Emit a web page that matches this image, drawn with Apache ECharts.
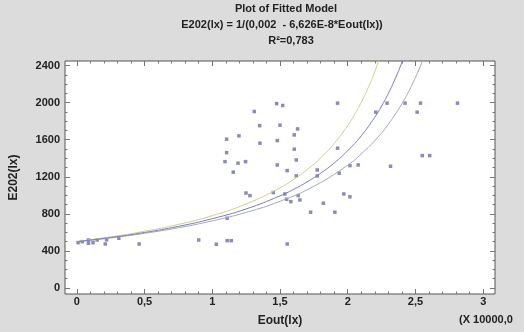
<!DOCTYPE html>
<html>
<head>
<meta charset="utf-8">
<script src="https://cdn.jsdelivr.net/npm/echarts@6/dist/echarts.min.js"></script>
<style>
  html, body { margin: 0; padding: 0; background: #dcdcdc; }
  #chart { width: 524px; height: 332px; }
</style>
</head>
<body>
<div id="chart"></div>
<script>
// observed points (Eout in 10000 lx, E202 in lx)
const eoutObs = [0.01, 0.04, 0.086, 0.086, 0.12, 0.15, 0.21, 0.22, 0.31, 0.46,
  0.90, 1.03, 1.11, 1.14, 1.11, 1.475, 1.52, 1.31, 1.35, 1.50,
  1.63, 1.106, 1.197, 1.352, 1.48, 1.605, 1.605, 1.106, 1.094, 1.19,
  1.246, 1.155, 1.48, 1.553, 1.62, 1.62, 1.775, 1.775, 1.925, 1.925,
  1.937, 2.016, 2.077, 1.249, 1.278, 1.45, 1.536, 1.634, 1.971, 2.016,
  1.549, 1.58, 1.647, 1.82, 1.726, 1.905, 1.553, 2.29, 2.207, 2.423,
  2.537, 2.512, 2.55, 2.605, 2.316, 2.81];
const e202Obs = [489, 500, 518, 483, 489, 518, 475, 520, 537, 475,
  518, 472, 511, 511, 753, 1990, 1970, 1905, 1752, 1757,
  1717, 1606, 1642, 1563, 1591, 1652, 1498, 1461, 1364, 1347,
  1364, 1250, 1328, 1267, 1382, 1210, 1274, 1210, 1995, 1509,
  1239, 1321, 1328, 1025, 997, 1030, 1015, 997, 1015, 984,
  958, 932, 950, 915, 818, 818, 475, 1995, 1898, 1995,
  1995, 1898, 1429, 1429, 1314, 1995];

// fitted curve and limits
const fitX = [0, 0.25, 0.5, 0.75, 1, 1.25, 1.5, 1.6, 1.7, 1.8, 1.9, 2, 2.1, 2.2, 2.25, 2.3, 2.35, 2.4, 2.45];
const fitY = [500, 545, 599, 665, 748, 853, 994, 1064, 1145, 1239, 1349, 1482, 1643, 1844, 1964, 2101, 2258, 2438, 2655];
const upX = [0, 0.25, 0.5, 0.75, 1, 1.25, 1.5, 1.6, 1.7, 1.8, 1.9, 2, 2.05, 2.1, 2.15, 2.2, 2.25];
const upY = [503, 552, 612, 686, 781, 907, 1081, 1171, 1277, 1404, 1560, 1754, 1871, 2004, 2158, 2336, 2548];
const loX = [0, 0.25, 0.5, 0.75, 1, 1.25, 1.5, 1.75, 2, 2.1, 2.2, 2.3, 2.4, 2.45, 2.5, 2.55, 2.6];
const loY = [498, 540, 590, 650, 724, 816, 936, 1098, 1326, 1447, 1591, 1768, 1989, 2121, 2273, 2447, 2651];

// axis ticks
const xTicks = [0, 0.5, 1, 1.5, 2, 2.5, 3];
const xMinor = [0, 0.1, 0.2, 0.3, 0.4, 0.5, 0.6, 0.7, 0.8, 0.9, 1, 1.1, 1.2, 1.3, 1.4, 1.5,
  1.6, 1.7, 1.8, 1.9, 2, 2.1, 2.2, 2.3, 2.4, 2.5, 2.6, 2.7, 2.8, 2.9, 3];
const yTicks = [0, 400, 800, 1200, 1600, 2000, 2400];
const yMinor = [0, 100, 200, 300, 400, 500, 600, 700, 800, 900, 1000, 1100, 1200, 1300,
  1400, 1500, 1600, 1700, 1800, 1900, 2000, 2100, 2200, 2300, 2400];

const xMin = -0.087, xMax = 3.087;
const yMin = -65, yMax = 2450;
const font = "Liberation Sans";
const tickCol = "#777";

const zip = (a, b) => a.map((v, i) => [v, b[i]]);

const axisBase = (min, max) => ({
  type: "value", gridIndex: 0, min: min, max: max,
  splitLine: { show: false },
  axisLine: { show: false, onZero: false },
  axisLabel: { show: false },
  axisTick: { show: false },
});

const tickAxis = (kind, pos, vals, len) => Object.assign(
  kind === "x" ? axisBase(xMin, xMax) : axisBase(yMin, yMax),
  {
    position: pos,
    axisTick: { show: true, inside: true, length: len, customValues: vals, lineStyle: { color: tickCol } },
  }
);

const myChart = echarts.init(document.getElementById("chart"));
myChart.setOption({
  backgroundColor: "#dcdcdc",
  animation: false,
  grid: {
    left: 65, right: 29, top: 61, bottom: 38,
    show: true, backgroundColor: "#fff", borderColor: "#555", borderWidth: 1,
  },
  graphic: [
    { type: "text", x: 286, y: 3, style: { text: "Plot of Fitted Model", font: "bold 11px " + font, fill: "#222", textAlign: "center" } },
    { type: "text", x: 282, y: 19, style: { text: "E202(lx) = 1/(0,002  - 6,626E-8*Eout(lx))", font: "bold 11px " + font, fill: "#222", textAlign: "center" } },
    { type: "text", x: 291, y: 35, style: { text: "R²=0,783", font: "bold 11px " + font, fill: "#222", textAlign: "center" } },
    { type: "text", x: 459, y: 314, style: { text: "(X 10000,0", font: "bold 11px " + font, fill: "#222" } },
  ],
  xAxis: [
    Object.assign(tickAxis("x", "bottom", xTicks, 5), {
      name: "Eout(lx)", nameLocation: "middle", nameGap: 21,
      nameTextStyle: { fontFamily: font, fontWeight: "bold", fontSize: 12, color: "#222" },
      axisLabel: {
        show: true, customValues: xTicks, margin: 2,
        fontFamily: font, fontWeight: "bold", fontSize: 11, color: "#222",
        formatter: (v) => String(v).replace(".", ","),
      },
    }),
    tickAxis("x", "bottom", xMinor, 2.5),
    tickAxis("x", "top", xTicks, 5),
    tickAxis("x", "top", xMinor, 2.5),
  ],
  yAxis: [
    Object.assign(tickAxis("y", "left", yTicks, 5), {
      name: "E202(lx)", nameLocation: "middle", nameGap: 45, nameRotate: 90,
      nameTextStyle: { fontFamily: font, fontWeight: "bold", fontSize: 12, color: "#222" },
      axisLabel: {
        show: true, customValues: yTicks, margin: 5,
        fontFamily: font, fontWeight: "bold", fontSize: 11, color: "#222",
        formatter: (v) => String(v),
      },
    }),
    tickAxis("y", "left", yMinor, 2.5),
    tickAxis("y", "right", yTicks, 5),
    tickAxis("y", "right", yMinor, 2.5),
  ],
  series: [
    {
      type: "line", data: zip(upX, upY), smooth: true, showSymbol: false,
      lineStyle: { color: "#cdd08a", width: 1 }, clip: true,
    },
    {
      type: "line", data: zip(loX, loY), smooth: true, showSymbol: false,
      lineStyle: { color: "#a3aab4", width: 1 }, clip: true,
    },
    {
      type: "line", data: zip(fitX, fitY), smooth: true, showSymbol: false,
      lineStyle: { color: "#7a7ac8", width: 1 }, clip: true,
    },
    {
      type: "scatter", data: zip(eoutObs, e202Obs), symbol: "rect", symbolSize: 3.5,
      itemStyle: { color: "#6e6ea4", opacity: 0.8 },
    },
  ],
});
</script>
</body>
</html>
